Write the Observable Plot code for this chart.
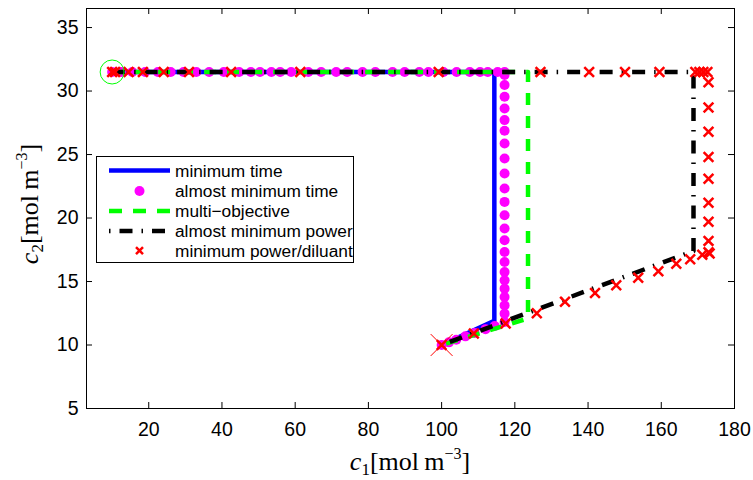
<!DOCTYPE html>
<html><head><meta charset="utf-8">
<script src="https://cdn.jsdelivr.net/npm/d3@7"></script>
<script src="https://cdn.jsdelivr.net/npm/@observablehq/plot@0.6"></script>
<style>body{margin:0;background:#fff}</style>
</head><body><div id="chart"></div>
<script>
const xTicks = [20, 40, 60, 80, 100, 120, 140, 160, 180];
const yTicks = [5, 10, 15, 20, 25, 30, 35];

const seriesNames = ["minimum time", "almost minimum time", "multi\u2212objective", "almost minimum power", "minimum power/diluant"];

// minimum time (blue solid)
const minTimeC1 = [10, 114.4, 114.4, 100];
const minTimeC2 = [31.5, 31.5, 11.9, 10];

// almost minimum time (magenta dots)
const almostMinTimeC1 = [10, 12.5, 15.5, 19, 22.5, 26, 29.5, 33, 36.5, 40.5, 44.7, 47.9, 50.4, 53.5, 55.9, 58.9, 63.6, 67.1, 71.2, 74.2, 78.4, 81.9, 86.6, 89.9, 93.9, 96.4, 100.5, 104.1, 107.7, 110.5, 112.6, 115.3, 117.2,
  117.2, 117.2, 117.2, 117.2, 117.2, 117.2, 117.2, 117.2, 117.2, 117.2, 117.2, 117.2, 117.2, 117.2, 117.2, 117.2, 117.2, 117.2, 117.2, 117.2, 117.2, 117.2, 117.2,
  114.5, 112, 109, 106.5, 104, 102, 100];
const almostMinTimeC2 = [31.5, 31.5, 31.5, 31.5, 31.5, 31.5, 31.5, 31.5, 31.5, 31.5, 31.5, 31.5, 31.5, 31.5, 31.5, 31.5, 31.5, 31.5, 31.5, 31.5, 31.5, 31.5, 31.5, 31.5, 31.5, 31.5, 31.5, 31.5, 31.5, 31.5, 31.5, 31.5, 31.5,
  31.26, 30.47, 29.55, 28.63, 27.71, 26.87, 25.87, 24.69, 23.5, 22.32, 21.27, 20.22, 19.17, 18.25, 17.33, 16.54, 15.75, 15.09, 14.44, 13.78, 13.12, 12.47, 11.81,
  11.5, 11.25, 10.94, 10.68, 10.42, 10.21, 10.0];

// multi-objective (green dashed)
const multiObjC1 = [10, 123.6, 123.6, 100];
const multiObjC2 = [31.5, 31.5, 12.1, 10];

// almost minimum power (black dash-dot)
const almostMinPowerC1 = [10, 168.8, 168.8, 100];
const almostMinPowerC2 = [31.5, 31.5, 17.4, 10];

// minimum power/diluant (red crosses)
const minPowerC1 = [10, 10.8, 14.5, 18.4, 24.1, 31, 42.5, 61.4, 99.2, 127, 140.3, 150.1, 159.5, 169.3, 170.4, 171.5, 172.6,
  172.9, 172.9, 172.9, 172.9, 172.9, 172.9, 172.9, 172.9, 172.9,
  173.2, 171.2, 167.9, 164.1, 159.2, 153.7, 147.7, 141.9, 133.7, 126.0, 117.5, 108.8, 100];
const minPowerC2 = [31.5, 31.5, 31.5, 31.5, 31.5, 31.5, 31.5, 31.5, 31.5, 31.5, 31.5, 31.5, 31.5, 31.5, 31.5, 31.5, 31.5,
  30.7, 28.7, 26.8, 24.8, 23.1, 21.2, 19.7, 18.2, 17.3,
  17.2, 17.1, 16.75, 16.4, 15.8, 15.3, 14.7, 14.1, 13.4, 12.5, 11.7, 10.9, 10.0];

const startPoint = [{c1: 100, c2: 10}];
const endPoint = [{c1: 10, c2: 31.5}];

const zip = (a, b) => a.map((v, i) => ({c1: v, c2: b[i]}));
const minTime = zip(minTimeC1, minTimeC2);
const almostMinTime = zip(almostMinTimeC1, almostMinTimeC2);
const multiObj = zip(multiObjC1, multiObjC2);
const almostMinPower = zip(almostMinPowerC1, almostMinPowerC2);
const minPower = zip(minPowerC1, minPowerC2);

const W = 753, H = 480, mL = 86, mR = 19, mT = 8, mB = 72;
const fw = W - mL - mR, fh = H - mT - mB;
const sans = "Liberation Sans, Arial, sans-serif";

const plot = Plot.plot({
  width: W, height: H,
  marginLeft: mL, marginRight: mR, marginTop: mT, marginBottom: mB,
  style: "font-family: Liberation Sans, Arial, sans-serif; font-size: 19px; background: #fff; color: #000;",
  x: {domain: [3, 180], ticks: xTicks},
  y: {domain: [5, 36.5], ticks: yTicks},
  marks: [
    Plot.line(minTime, {x: "c1", y: "c2", stroke: "#0000ff", strokeWidth: 4.5}),
    Plot.dot(almostMinTime, {x: "c1", y: "c2", r: 5, fill: "#ff00ff", stroke: "none"}),
    Plot.line(multiObj, {x: "c1", y: "c2", stroke: "#00ff00", strokeWidth: 4.5, strokeDasharray: "12,11", strokeLinecap: "butt"}),
    Plot.line(almostMinPower, {x: "c1", y: "c2", stroke: "#000", strokeWidth: 4.5, strokeDasharray: "13,9,1.5,9", strokeLinecap: "butt"}),
    Plot.dot(minPower, {x: "c1", y: "c2", symbol: "times", r: 4.5, stroke: "#ff0000", strokeWidth: 2.5}),
    Plot.dot(startPoint, {x: "c1", y: "c2", symbol: "times", r: 10, stroke: "#ff0000", strokeWidth: 1}),
    Plot.dot(endPoint, {x: "c1", y: "c2", r: 12, stroke: "#00ff00", strokeWidth: 1, fill: "none"}),
    Plot.tickX(xTicks.filter(d => d < 180), {x: d => d, stroke: "#000", insetTop: fh - 6}),
    Plot.tickX(xTicks.filter(d => d < 180), {x: d => d, stroke: "#000", insetBottom: fh - 6}),
    Plot.tickY(yTicks.filter(d => d > 5), {y: d => d, stroke: "#000", insetRight: fw - 6}),
    Plot.tickY(yTicks.filter(d => d > 5), {y: d => d, stroke: "#000", insetLeft: fw - 6}),
    Plot.axisX({ticks: xTicks, tickSize: 0, tickPadding: 14, label: null, fontSize: 19.5, fontFamily: sans}),
    Plot.axisY({ticks: yTicks, tickSize: 0, tickPadding: 8, label: null, fontSize: 19.5, fontFamily: sans}),
    Plot.frame({stroke: "#000", strokeWidth: 1})
  ]
});
document.getElementById("chart").appendChild(plot);

const svg = d3.select(plot);
// axis labels
const serif = "'Liberation Serif', 'DejaVu Serif', serif";
const subs = ["1", "2"];
function addLabel(g, i) {
  g.append("tspan").attr("font-style", "italic").text("c");
  g.append("tspan").attr("font-size", "17px").attr("dy", 5).text(subs[i]);
  g.append("tspan").attr("dy", -5).text("[mol\u2009m");
  g.append("tspan").attr("font-size", "16px").attr("dy", -11).text("\u22123");
  g.append("tspan").attr("dy", 11).text("]");
}
const xl = svg.append("text").attr("x", mL + fw / 2).attr("y", 470)
  .attr("text-anchor", "middle").attr("font-family", serif).attr("font-size", "26px");
addLabel(xl, 0);
const yl = svg.append("text").attr("transform", `translate(38,${mT + fh / 2 - 4}) rotate(-90)`)
  .attr("text-anchor", "middle").attr("font-family", serif).attr("font-size", "26px");
addLabel(yl, 1);

// legend
const lg = svg.append("g").attr("text-anchor", "start");
lg.append("rect").attr("x", 96.5).attr("y", 156.5).attr("width", 257).attr("height", 106)
  .attr("fill", "#fff").attr("stroke", "#000");
const rowsY = [170.5, 191, 211, 231, 250.6];
const sx1 = 109, sx2 = 170, tx = 175;
lg.append("line").attr("x1", sx1).attr("x2", sx2).attr("y1", rowsY[0]).attr("y2", rowsY[0]).attr("stroke", "#0000ff").attr("stroke-width", 4.5);
lg.append("circle").attr("cx", (sx1 + sx2) / 2).attr("cy", rowsY[1]).attr("r", 5).attr("fill", "#ff00ff");
lg.append("line").attr("x1", sx1).attr("x2", sx2 + 1).attr("y1", rowsY[2]).attr("y2", rowsY[2]).attr("stroke", "#00ff00").attr("stroke-width", 4.5).attr("stroke-dasharray", "13,11");
lg.append("line").attr("x1", sx1).attr("x2", sx2).attr("y1", rowsY[3]).attr("y2", rowsY[3]).attr("stroke", "#000").attr("stroke-width", 4.5).attr("stroke-dasharray", "1.5,9,13,9");
const cx = (sx1 + sx2) / 2, cy = rowsY[4], s = 3.5;
lg.append("path").attr("d", `M${cx - s},${cy - s}L${cx + s},${cy + s}M${cx - s},${cy + s}L${cx + s},${cy - s}`).attr("stroke", "#ff0000").attr("stroke-width", 2.5);
seriesNames.forEach((n, i) => {
  lg.append("text").attr("x", tx).attr("y", rowsY[i]).attr("dy", "0.35em").attr("text-anchor", "start")
    .attr("font-family", sans).attr("font-size", "17.3px").attr("fill", "#000").text(n);
});
</script></body></html>
